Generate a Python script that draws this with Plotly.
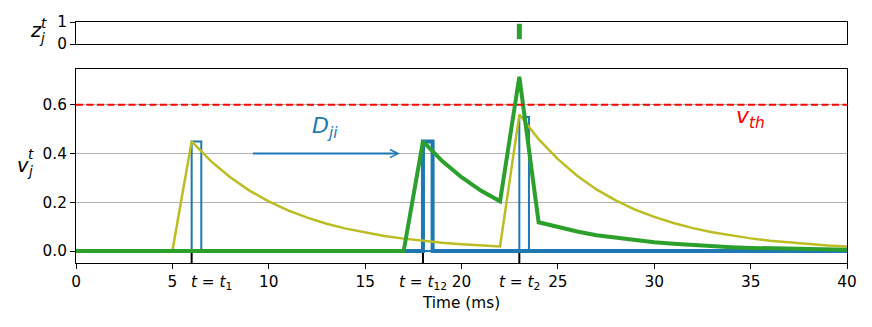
import plotly.graph_objects as go

# ---------------- data ----------------
time_ms = list(range(0, 41))

# membrane potential of presynaptic neuron i (thin olive curve)
v_i = [0, 0, 0, 0, 0, 0, 0.45, 0.369, 0.303, 0.248, 0.204, 0.167, 0.137, 0.112,
       0.092, 0.076, 0.062, 0.051, 0.042, 0.034, 0.028, 0.023, 0.019, 0.56,
       0.459, 0.377, 0.309, 0.253, 0.208, 0.170, 0.140, 0.115, 0.094, 0.077,
       0.063, 0.052, 0.042, 0.035, 0.028, 0.023, 0.019]

# membrane potential of neuron j (thick green curve)
v_j = [0, 0, 0, 0, 0, 0, 0, 0, 0, 0, 0, 0, 0, 0, 0, 0, 0, 0, 0.45, 0.369,
       0.303, 0.248, 0.204, 0.715, 0.118, 0.097, 0.080, 0.065, 0.054, 0.044,
       0.036, 0.030, 0.024, 0.020, 0.016, 0.013, 0.011, 0.009, 0.007, 0.006,
       0.005]

# input pulses (thin blue) and delayed pulse (thick blue)
pulse_times = [6, 23]
pulse_heights = [0.45, 0.55]
delayed_times = [18]
delayed_heights = [0.45]
pulse_width = 0.5

# output spikes z_j
z_times = [23]
z_level = [0.57]

v_th = 0.6
t_marks = [6, 18, 23]
t_mark_labels = ["<i>t</i> = <i>t</i><sub>1</sub>",
                 "<i>t</i> = <i>t</i><sub>12</sub>",
                 "<i>t</i> = <i>t</i><sub>2</sub>"]
x_ticks = [0, 5, 10, 15, 20, 25, 30, 35, 40]
y_ticks = [0.0, 0.2, 0.4, 0.6]
y_ticklabels = ["0.0", "0.2", "0.4", "0.6"]


def pulse_train(times, heights, width, t0, t1):
    xs, ys = [t0], [0]
    for t, h in zip(times, heights):
        xs += [t, t, t + width, t + width]
        ys += [0, h, h, 0]
    xs.append(t1)
    ys.append(0)
    return xs, ys


C0 = "#1f77b4"
C2 = "#2ca02c"
C8 = "#bcbd22"
FONT = "DejaVu Sans"
FS = 15.3

bx, by = pulse_train(pulse_times, pulse_heights, pulse_width, time_ms[0], time_ms[-1])
dx, dy = pulse_train(delayed_times, delayed_heights, pulse_width, time_ms[0], time_ms[-1])

fig = go.Figure()
fig.add_trace(go.Scatter(x=dx, y=dy, mode="lines", line=dict(color=C0, width=4),
                         xaxis="x", yaxis="y", showlegend=False))
fig.add_trace(go.Scatter(x=bx, y=by, mode="lines", line=dict(color=C0, width=2),
                         xaxis="x", yaxis="y", showlegend=False))
fig.add_trace(go.Scatter(x=time_ms, y=v_i, mode="lines", line=dict(color=C8, width=2.5),
                         xaxis="x", yaxis="y", showlegend=False))
fig.add_trace(go.Scatter(x=time_ms, y=v_j, mode="lines", line=dict(color=C2, width=4),
                         xaxis="x", yaxis="y", showlegend=False))
fig.add_trace(go.Scatter(x=z_times, y=z_level, mode="markers",
                         marker=dict(symbol="line-ns", size=11,
                                     line=dict(color=C2, width=5)),
                         xaxis="x2", yaxis="y2", showlegend=False))

# threshold line
fig.add_shape(type="line", xref="x domain", yref="y", x0=0, x1=1, y0=v_th, y1=v_th,
              line=dict(color="#ff0000", width=2, dash="7px,3.5px"))

# special time marks
for t in t_marks:
    fig.add_shape(type="line", xref="x", yref="y domain", x0=t, x1=t, y0=0, y1=0.067,
                  line=dict(color="black", width=2), layer="below")

PX0, PW, PY1, PH = 76, 771, 263, 241


def xp(px):
    return (px - PX0) / PW


def yp(py):
    return (PY1 - py) / PH


ann = []
for i, (t, lab) in enumerate(zip(t_marks, t_mark_labels)):
    ann.append(dict(x=t, xref="x", y=yp(283), yref="paper", text=lab, showarrow=False,
                    xanchor="left" if i == 0 else "center", yanchor="middle",
                    xshift=-3 if i == 0 else 0,
                    font=dict(family=FONT, size=FS, color="black")))
ann.append(dict(x=xp(461), y=yp(303), xref="paper", yref="paper", text="Time (ms)",
                showarrow=False, xanchor="center", yanchor="middle",
                font=dict(family=FONT, size=FS, color="black")))
# y labels built from stacked sub/superscripts
for txt, px, py, sz in [("v", 22.5, 165, 19.4), ("t", 30.5, 154, 13.6), ("j", 29.5, 171, 13.6),
                        ("z", 36, 30, 19.4), ("t", 44, 23.5, 13.6), ("j", 42, 37.5, 13.6)]:
    ann.append(dict(x=xp(px), y=yp(py), xref="paper", yref="paper", text="<i>%s</i>" % txt,
                    showarrow=False, xanchor="center", yanchor="middle",
                    font=dict(family=FONT, size=sz, color="black")))
ann.append(dict(x=12.9, y=0.505, xref="x", yref="y", text="<i>D</i><sub><i>ji</i></sub>",
                showarrow=False, xanchor="center", yanchor="middle",
                font=dict(family=FONT, size=22, color=C0)))
ann.append(dict(x=35, y=0.548, xref="x", yref="y", text="<i>v</i><sub><i>th</i></sub>",
                showarrow=False, xanchor="center", yanchor="middle",
                font=dict(family=FONT, size=22, color="#ff0000")))
ann.append(dict(x=16.8, y=0.4, ax=9.1, ay=0.4, xref="x", yref="y", axref="x", ayref="y",
                text="", showarrow=True, arrowhead=5, arrowwidth=2, arrowsize=0.8,
                arrowcolor=C0))

axis_common = dict(showline=True, linecolor="black", linewidth=1, mirror=True,
                   zeroline=False, tickfont=dict(family=FONT, size=FS, color="black"))

fig.update_layout(
    width=872, height=327,
    margin=dict(l=PX0, r=872 - PX0 - PW, t=PY1 - PH, b=327 - PY1),
    paper_bgcolor="white", plot_bgcolor="white",
    font=dict(family=FONT, size=FS, color="black"),
    xaxis=dict(domain=[0, 1], range=[0, 40], tickvals=x_ticks, ticks="outside",
               ticklen=5, tickwidth=1, tickcolor="black", showgrid=False,
               anchor="y", **axis_common),
    yaxis=dict(domain=[0, 194 / 241], range=[-0.049, 0.747], tickvals=y_ticks,
               ticktext=y_ticklabels, ticks="outside", ticklen=5, tickwidth=1,
               tickcolor="black", showgrid=True, gridcolor="#b0b0b0", gridwidth=1,
               anchor="x", **axis_common),
    xaxis2=dict(domain=[0, 1], range=[0, 40], matches="x", showticklabels=False,
                ticks="", showgrid=False, anchor="y2", **axis_common),
    yaxis2=dict(domain=[219 / 241, 1], range=[0, 1], tickvals=[0, 1], ticks="outside",
                ticklen=5, tickwidth=1, tickcolor="black", showgrid=False,
                anchor="x2", **axis_common),
    annotations=ann,
)

fig.write_html("out.html")
